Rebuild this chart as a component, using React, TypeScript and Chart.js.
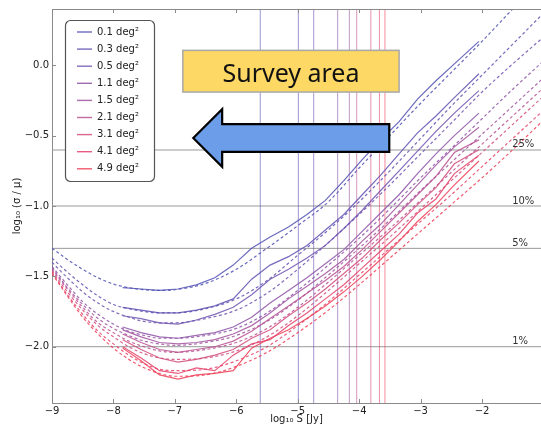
import React, { useEffect, useRef } from "react";
import { Chart, registerables } from "chart.js";
Chart.register(...registerables);

// ---------- data ----------
const areaLabels = ["0.1 deg²", "0.3 deg²", "0.5 deg²", "1.1 deg²", "1.5 deg²", "2.1 deg²", "3.1 deg²", "4.1 deg²", "4.9 deg²"];

// measured curves (solid), log10 S
const solidX = [-7.85, -7.55, -7.25, -6.95, -6.65, -6.35, -6.05, -5.75, -5.45, -5.15, -4.85, -4.55, -4.25, -3.95, -3.65, -3.35, -3.05, -2.75, -2.45, -2.05];
const solid01 = [-1.58, -1.59, -1.6, -1.59, -1.56, -1.51, -1.42, -1.3, -1.22, -1.15, -1.06, -0.96, -0.82, -0.67, -0.53, -0.4, -0.24, -0.11, 0.01, 0.17];
const solid03 = [-1.72, -1.74, -1.76, -1.76, -1.74, -1.71, -1.66, -1.52, -1.42, -1.36, -1.28, -1.17, -1.06, -0.92, -0.78, -0.63, -0.48, -0.36, -0.23, -0.06];
const solid05 = [-1.78, -1.8, -1.83, -1.84, -1.81, -1.77, -1.72, -1.63, -1.52, -1.45, -1.37, -1.28, -1.16, -1.03, -0.89, -0.75, -0.61, -0.47, -0.34, -0.18];
const solid11 = [-1.86, -1.9, -1.93, -1.94, -1.92, -1.9, -1.86, -1.79, -1.69, -1.6, -1.51, -1.41, -1.31, -1.18, -1.05, -0.92, -0.77, -0.63, -0.5, -0.34];
const solid15 = [-1.88, -1.93, -1.97, -1.98, -1.97, -1.95, -1.91, -1.85, -1.76, -1.66, -1.57, -1.48, -1.38, -1.25, -1.13, -0.99, -0.85, -0.71, -0.58, -0.44];
const solid21 = [-1.91, -1.97, -2.02, -2.04, -2.02, -2.0, -1.96, -1.89, -1.8, -1.71, -1.62, -1.53, -1.43, -1.31, -1.18, -1.05, -0.92, -0.79, -0.62, -0.53];
const solid31 = [-1.95, -2.02, -2.08, -2.11, -2.09, -2.06, -2.02, -1.94, -1.88, -1.78, -1.69, -1.59, -1.48, -1.37, -1.24, -1.12, -0.99, -0.87, -0.7, -0.6];
const solid41 = [-2.0, -2.08, -2.17, -2.19, -2.15, -2.17, -2.06, -1.98, -1.95, -1.85, -1.76, -1.66, -1.56, -1.44, -1.32, -1.2, -1.05, -0.95, -0.77, -0.64];
const solid49 = [-2.01, -2.1, -2.2, -2.23, -2.2, -2.19, -2.17, -2.01, -1.94, -1.88, -1.8, -1.71, -1.61, -1.5, -1.38, -1.25, -1.11, -0.99, -0.85, -0.68];

// model curves (dashed)
const modelX = [-9, -8.75, -8.5, -8.25, -8, -7.75, -7.5, -7.25, -7, -6.5, -6, -5.5, -5, -4.5, -4, -3.5, -3, -2.5, -2, -1.5, -1];
const model01 = [-1.3, -1.38, -1.45, -1.51, -1.555, -1.58, -1.595, -1.6, -1.595, -1.55, -1.45, -1.3, -1.14, -0.97, -0.73, -0.5, -0.27, -0.05, 0.17, 0.4, 0.62];
const model03 = [-1.37, -1.47, -1.56, -1.64, -1.7, -1.73, -1.75, -1.76, -1.76, -1.73, -1.66, -1.53, -1.35, -1.17, -0.97, -0.75, -0.52, -0.29, -0.07, 0.15, 0.37];
const model05 = [-1.4, -1.51, -1.61, -1.69, -1.75, -1.79, -1.82, -1.83, -1.83, -1.8, -1.74, -1.62, -1.45, -1.26, -1.06, -0.85, -0.63, -0.41, -0.19, 0.01, 0.2];
const model11 = [-1.43, -1.56, -1.68, -1.77, -1.84, -1.89, -1.92, -1.94, -1.94, -1.92, -1.87, -1.76, -1.6, -1.42, -1.23, -1.02, -0.8, -0.59, -0.38, -0.17, 0.03];
const model15 = [-1.44, -1.58, -1.7, -1.8, -1.87, -1.92, -1.96, -1.98, -1.99, -1.97, -1.92, -1.82, -1.67, -1.49, -1.3, -1.1, -0.89, -0.69, -0.49, -0.29, -0.09];
const model21 = [-1.45, -1.59, -1.72, -1.83, -1.9, -1.96, -2.0, -2.03, -2.04, -2.02, -1.97, -1.87, -1.72, -1.54, -1.35, -1.16, -0.96, -0.76, -0.56, -0.36, -0.16];
const model31 = [-1.46, -1.61, -1.74, -1.85, -1.93, -2.0, -2.05, -2.08, -2.09, -2.08, -2.03, -1.93, -1.78, -1.6, -1.41, -1.22, -1.02, -0.82, -0.62, -0.42, -0.22];
const model41 = [-1.47, -1.63, -1.77, -1.89, -1.98, -2.06, -2.12, -2.16, -2.17, -2.16, -2.1, -2.0, -1.85, -1.68, -1.49, -1.3, -1.11, -0.92, -0.72, -0.52, -0.32];
const model49 = [-1.48, -1.64, -1.79, -1.91, -2.01, -2.09, -2.15, -2.19, -2.21, -2.2, -2.14, -2.04, -1.9, -1.74, -1.56, -1.37, -1.18, -0.99, -0.8, -0.6, -0.39];

// vertical cut lines (log10 S) per area
const cutS = [-5.61, -4.99, -4.74, -4.35, -4.16, -4.04, -3.81, -3.67, -3.58];

// horizontal precision levels
const levelY = [-0.602, -1.0, -1.301, -2.0];
const levelLabels = ["25%", "10%", "5%", "1%"];

const xTicks = [-9, -8, -7, -6, -5, -4, -3, -2];
const yTicks = [0, -0.5, -1, -1.5, -2];

// ---------- layout/style ----------
const X_MIN = -9, X_MAX = -1.04, Y_MIN = -2.4, Y_MAX = 0.4;
const LABEL_X = -1.51;
const BOX_X = [-6.87, -3.35], BOX_Y = [0.106, -0.19], BOX_TEXT_Y = -0.122;
const ARROW = { tipX: -6.7, tipY: -0.517, headX: -6.23, headTop: -0.312, headBot: -0.721, shaftTop: -0.418, shaftBot: -0.616, endX: -3.51 };

const seriesColors = [
  "rgba(80,80,180,0.85)",
  "rgba(95,80,178,0.85)",
  "rgba(110,82,175,0.85)",
  "rgba(140,82,165,0.85)",
  "rgba(160,82,158,0.85)",
  "rgba(185,80,145,0.85)",
  "rgba(210,75,125,0.85)",
  "rgba(228,65,105,0.85)",
  "rgba(238,60,85,0.85)",
];
const cutColors = [
  "rgba(80,80,180,0.6)",
  "rgba(95,80,178,0.6)",
  "rgba(110,82,175,0.6)",
  "rgba(140,82,165,0.6)",
  "rgba(160,82,158,0.6)",
  "rgba(185,80,145,0.6)",
  "rgba(210,75,125,0.6)",
  "rgba(228,65,105,0.6)",
  "rgba(238,60,85,0.6)",
];

const solids = [solid01, solid03, solid05, solid11, solid15, solid21, solid31, solid41, solid49];
const models = [model01, model03, model05, model11, model15, model21, model31, model41, model49];

const FONT = '"DejaVu Sans", sans-serif';

const fmtMinus = (n: number, d: number) => (n < 0 ? "\u2212" : "") + Math.abs(n).toFixed(d);

const overlay = {
  id: "overlay",
  afterDraw(chart: any) {
    const { ctx, chartArea: ca, scales } = chart;
    const x = scales.x, y = scales.y;
    ctx.save();
    // top frame
    ctx.strokeStyle = "#8a8a8a";
    ctx.lineWidth = 1;
    ctx.beginPath();
    ctx.moveTo(ca.left, ca.top + 0.5);
    ctx.lineTo(ca.right, ca.top + 0.5);
    ctx.stroke();
    // inward ticks
    ctx.beginPath();
    xTicks.forEach((v) => {
      const px = Math.round(x.getPixelForValue(v)) + 0.5;
      ctx.moveTo(px, ca.bottom);
      ctx.lineTo(px, ca.bottom - 4);
      ctx.moveTo(px, ca.top);
      ctx.lineTo(px, ca.top + 4);
    });
    yTicks.forEach((v) => {
      const py = Math.round(y.getPixelForValue(v)) + 0.5;
      ctx.moveTo(ca.left, py);
      ctx.lineTo(ca.left + 4, py);
    });
    ctx.stroke();

    // level labels
    ctx.fillStyle = "#333";
    ctx.font = `10px ${FONT}`;
    ctx.textAlign = "left";
    ctx.textBaseline = "alphabetic";
    levelY.forEach((v, i) => {
      ctx.fillText(levelLabels[i], x.getPixelForValue(LABEL_X), y.getPixelForValue(v) - 2.5);
    });

    // legend
    const lx = ca.left + 13, ly = ca.top + 11, lw = 89, lh = 161;
    ctx.beginPath();
    ctx.roundRect(lx + 0.5, ly + 0.5, lw, lh, 5);
    ctx.fillStyle = "#fff";
    ctx.fill();
    ctx.strokeStyle = "#555";
    ctx.lineWidth = 1.2;
    ctx.stroke();
    ctx.textBaseline = "middle";
    ctx.font = `10px ${FONT}`;
    areaLabels.forEach((lab, i) => {
      const ry = ly + 12 + i * 17.1;
      ctx.strokeStyle = seriesColors[i];
      ctx.lineWidth = 1.4;
      ctx.beginPath();
      ctx.moveTo(lx + 12, ry);
      ctx.lineTo(lx + 27, ry);
      ctx.stroke();
      ctx.fillStyle = "#222";
      ctx.fillText(lab, lx + 32, ry);
    });

    // survey area box
    const bx0 = x.getPixelForValue(BOX_X[0]), bx1 = x.getPixelForValue(BOX_X[1]);
    const by0 = y.getPixelForValue(BOX_Y[0]), by1 = y.getPixelForValue(BOX_Y[1]);
    ctx.fillStyle = "#FDD865";
    ctx.fillRect(bx0, by0, bx1 - bx0, by1 - by0);
    ctx.strokeStyle = "#a8a8a8";
    ctx.lineWidth = 1.5;
    ctx.strokeRect(bx0, by0, bx1 - bx0, by1 - by0);
    ctx.fillStyle = "#111";
    ctx.font = '25px "Noto Sans", "Open Sans", sans-serif';
    ctx.textAlign = "center";
    ctx.textBaseline = "alphabetic";
    ctx.fillText("Survey area", (bx0 + bx1) / 2, y.getPixelForValue(BOX_TEXT_Y));

    // arrow
    const px = (v: number) => x.getPixelForValue(v);
    const py = (v: number) => y.getPixelForValue(v);
    ctx.beginPath();
    ctx.moveTo(px(ARROW.tipX), py(ARROW.tipY));
    ctx.lineTo(px(ARROW.headX), py(ARROW.headTop));
    ctx.lineTo(px(ARROW.headX), py(ARROW.shaftTop));
    ctx.lineTo(px(ARROW.endX), py(ARROW.shaftTop));
    ctx.lineTo(px(ARROW.endX), py(ARROW.shaftBot));
    ctx.lineTo(px(ARROW.headX), py(ARROW.shaftBot));
    ctx.lineTo(px(ARROW.headX), py(ARROW.headBot));
    ctx.closePath();
    ctx.fillStyle = "#6B9DE8";
    ctx.fill();
    ctx.strokeStyle = "#000";
    ctx.lineWidth = 2.2;
    ctx.lineJoin = "miter";
    ctx.stroke();
    ctx.restore();
  },
};

export default function App() {
  const ref = useRef<HTMLCanvasElement>(null);
  useEffect(() => {
    if (!ref.current) return;
    const datasets: any[] = [];
    solids.forEach((arr, i) => {
      datasets.push({
        label: areaLabels[i],
        data: solidX.map((xv, j) => ({ x: xv, y: arr[j] })),
        borderColor: seriesColors[i],
        borderWidth: 1.2,
        pointRadius: 0,
        tension: 0,
        fill: false,
        order: 1,
      });
    });
    models.forEach((arr, i) => {
      datasets.push({
        label: areaLabels[i] + " model",
        data: modelX.map((xv, j) => ({ x: xv, y: arr[j] })),
        borderColor: seriesColors[i],
        borderWidth: 1.2,
        borderDash: [3, 2.5],
        pointRadius: 0,
        cubicInterpolationMode: "monotone",
        fill: false,
        order: 2,
      });
    });
    cutS.forEach((c, i) => {
      datasets.push({
        label: "cut " + i,
        data: [{ x: c, y: Y_MIN }, { x: c, y: Y_MAX }],
        borderColor: cutColors[i],
        borderWidth: 1,
        pointRadius: 0,
        fill: false,
        order: 5,
      });
    });
    levelY.forEach((v, i) => {
      datasets.push({
        label: levelLabels[i],
        data: [{ x: X_MIN, y: v }, { x: X_MAX, y: v }],
        borderColor: "#999",
        borderWidth: 1,
        pointRadius: 0,
        fill: false,
        order: 6,
      });
    });

    const chart = new Chart(ref.current, {
      type: "line",
      data: { datasets },
      plugins: [overlay],
      options: {
        animation: false,
        responsive: false,
        devicePixelRatio: 1,
        layout: { padding: { top: 6, left: 0, right: 0, bottom: 0 } },
        plugins: { legend: { display: false }, tooltip: { enabled: false } },
        scales: {
          x: {
            type: "linear",
            min: X_MIN,
            max: X_MAX,
            afterBuildTicks: (s: any) => { s.ticks = xTicks.map((v) => ({ value: v })); },
            afterFit: (s: any) => { s.height = 26; },
            grid: { display: false, drawTicks: false },
            border: { display: true, color: "#8a8a8a", width: 1 },
            ticks: {
              padding: 2,
              color: "#222",
              font: { family: FONT, size: 10 },
              maxRotation: 0,
              callback: (v: any) => fmtMinus(Number(v), 0),
            },
            title: {
              display: true,
              text: "log₁₀ S [Jy]",
              color: "#222",
              font: { family: FONT, size: 10 },
              padding: { top: 0, bottom: 4 },
            },
          },
          y: {
            type: "linear",
            min: Y_MIN,
            max: Y_MAX,
            afterBuildTicks: (s: any) => { s.ticks = yTicks.map((v) => ({ value: v })); },
            afterFit: (s: any) => { s.width = 52; },
            grid: { display: false, drawTicks: false },
            border: { display: true, color: "#8a8a8a", width: 1 },
            ticks: {
              padding: 3,
              color: "#222",
              font: { family: FONT, size: 10 },
              callback: (v: any) => fmtMinus(Number(v), 1),
            },
            title: {
              display: true,
              text: "log₁₀ (σ / μ)",
              color: "#222",
              font: { family: FONT, size: 10 },
              padding: { top: 11, bottom: 0 },
            },
          },
        },
      },
    } as any);
    return () => chart.destroy();
  }, []);

  return (
    <div style={{ position: "fixed", left: 0, top: 0, width: 541, height: 429, background: "#fff" }}>
      <canvas ref={ref} width={541} height={429} style={{ display: "block", width: 541, height: 429 }} />
    </div>
  );
}
